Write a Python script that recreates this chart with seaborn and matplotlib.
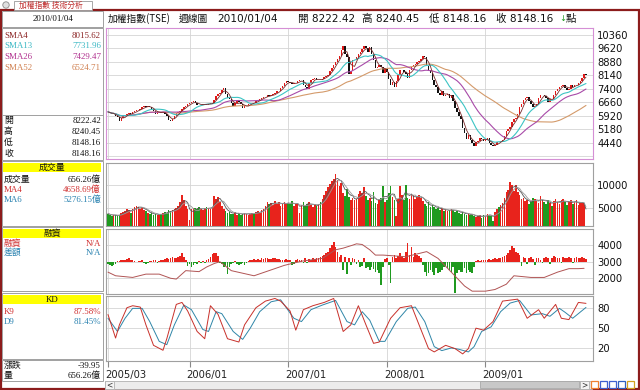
import numpy as np
import pandas as pd
import matplotlib
matplotlib.use("Agg")
import matplotlib.pyplot as plt
import seaborn as sns
from matplotlib.patches import Rectangle
from matplotlib.transforms import ScaledTranslation

# ---------------- data (weekly, 2005/03 .. 2010/01/04) ----------------
close_2005 = [6130, 6060, 5990, 6010, 5900, 5830, 5650, 5820, 5880, 5950, 5990, 6050, 6010,
              6100, 6170, 6230, 6240, 6300, 6380, 6440, 6400, 6450, 6380, 6290, 6180, 6040,
              6100, 6150, 6080, 6120, 6040, 5880, 5700, 5640, 5760, 5900, 6050, 6150, 6200,
              6300, 6400, 6450, 6550]
close_2006 = [6600, 6650, 6700, 6620, 6530, 6480, 6520, 6560, 6560, 6520, 6560, 6600, 6620,
              6800, 6980, 7100, 7170, 7350, 7450, 7100, 6900, 6850, 6600, 6450, 6600, 6700,
              6650, 6550, 6350, 6450, 6450, 6550, 6600, 6640, 6610, 6700, 6780, 6850, 6880,
              6920, 6960, 7050, 7000, 7030, 7100, 7150, 7250, 7270, 7420, 7550, 7700, 7820]
close_2007 = [7750, 7720, 7650, 7700, 7700, 7800, 7870, 7900, 7620, 7500, 7380, 7700, 7880,
              7920, 7980, 7850, 7900, 7880, 7950, 8050, 8120, 8150, 8350, 8550, 8700, 8880,
              9050, 9200, 9500, 9750, 9290, 9150, 8200, 8350, 8950, 9000, 9150, 9300, 9420,
              9550, 9720, 9650, 9400, 9710, 9300, 8950, 8550, 8600, 8700, 8600, 8250, 8480]
close_2008 = [8300, 7950, 7600, 7750, 7520, 7800, 8150, 8400, 8420, 8300, 8200, 8000, 8450,
              8570, 8700, 8750, 8850, 8920, 9050, 9200, 9150, 8650, 8450, 8250, 7850, 7600,
              7520, 7150, 7050, 7300, 7020, 7050, 7100, 6900, 7050, 6700, 6350, 6150, 5900,
              5720, 5250, 4950, 4650, 4870, 4600, 4400, 4250, 4460, 4550, 4700, 4620, 4560]
close_2009 = [4590, 4700, 4400, 4300, 4250, 4300, 4500, 4480, 4560, 4600, 4800, 5100, 5210,
              5300, 5600, 5750, 5800, 5990, 6400, 6550, 6800, 6890, 6950, 6700, 6550, 6420,
              6430, 6550, 6900, 7050, 7080, 7000, 6900, 6650, 6850, 6830, 7050, 7250, 7400,
              7510, 7550, 7600, 7450, 7340, 7400, 7600, 7500, 7580, 7600, 7700, 7800, 8000, 8188]
close_2010 = [8148.16]
first_open = 6150

vol_2005 = [3800, 3500, 3300, 3400, 3600, 3300, 3500, 3900, 4200, 4400, 4700, 4500, 4000,
            4800, 5300, 5500, 5100, 4800, 5200, 4500, 4300, 4000, 3700, 3900, 3500, 3800,
            3600, 3400, 3700, 3900, 4200, 4000, 4500, 4300, 4600, 4800, 5000, 5400, 6200,
            7800, 6600, 5400, 4800]
vol_2006 = [2400, 4800, 5000, 4900, 4700, 5100, 4800, 4600, 4900, 5200, 5000, 4800, 5300,
            7600, 7000, 7400, 6200, 5400, 4800, 4300, 3900, 4200, 3700, 3800, 4100, 3600,
            3900, 3500, 3700, 3900, 3800, 3600, 3700, 4000, 3800, 4100, 4300, 4000, 4500,
            4800, 5500, 6300, 5900, 6100, 5600, 6500, 5800, 6300, 5500, 6000, 6200, 5900]
vol_2007 = [6100, 5800, 6400, 5500, 5900, 6100, 4000, 5600, 6300, 5400, 5900, 6200, 5700,
            5300, 5800, 5400, 5900, 6300, 7000, 7800, 8600, 9400, 10200, 10800, 11200, 12300,
            10900, 9600, 10300, 8200, 7600, 9100, 7400, 6800, 7200, 6600, 7000, 7900, 8700,
            8200, 9400, 7500, 6800, 7200, 6400, 8500, 6100, 5900, 6800, 7100, 9600, 6200]
vol_2008 = [6800, 8200, 9600, 7300, 6600, 3200, 6900, 9600, 7800, 6700, 9800, 7200, 6900,
            8000, 7700, 6900, 7300, 7800, 7200, 6500, 5800, 5400, 6200, 5100, 5600, 5300,
            4800, 5000, 4600, 4900, 4400, 4700, 4300, 4500, 4800, 4600, 4200, 4400, 4000,
            3800, 4100, 3700, 3500, 3900, 3400, 3600, 3200, 3000, 3300, 3500, 2900, 3400]
vol_2009 = [3200, 3800, 3600, 3300, 2200, 4200, 4800, 5200, 5600, 6000, 7200, 8300, 8900,
            10600, 9800, 8600, 9900, 8400, 7800, 6900, 7200, 6400, 6600, 5900, 6300, 7200,
            6900, 6400, 6000, 7500, 6800, 6300, 5900, 6600, 6100, 5500, 6400, 6900, 6200,
            5800, 6600, 7000, 6300, 5700, 6500, 6700, 5900, 6200, 6600, 5700, 6100, 6300, 6000]
vol_2010 = [656.26]

margin_diff = [-150, -200, -250, -200, -150, 50, 60, 80, 100, 120,
               150, 200, 120, 80, 60, -40, 50, 40, 80, -80,
               -120, -100, 40, 60, 80, 100, -60, 50, 80, 100,
               150, 200, 180, 250, 300, 250, 200, 300, 350, 500,
               300, 100, -250, -150, -300, -200, -100, -150, 50, -100,
               60, -80, 100, 150, 300, 450, 550, 500, 350, -100,
               -150, -350, -250, -750, -300, -150, -100, 60, -120, -200,
               -150, -100, -180, -80, 60, 80, 120, 150, 100, 180,
               120, 200, 150, 250, 200, 180, 150, 220, 200, 180,
               150, 120, 100, 80, 150, 120, 100, -200, -150, 100,
               150, 80, 120, -100, 200, -80, 150, 120, 200, 180,
               200, 250, 300, 350, 400, 500, 600, 800, 1000, 1180,
               900, 600, 300, 400, -500, 300, -730, 250, -200, 200,
               150, -150, 100, -300, -250, 200, -400, -350, -500, -300,
               -450, -600, -500, -700, -1400, -300, 150, 200, -200, -1260,
               300, 400, 250, 350, 500, 300, 250, 600, 1100, 400,
               900, 300, 500, 400, 350, 250, -200, -600, -850, -700,
               -500, -650, -800, -400, -700, -600, -500, -300, -250, -400,
               -500, -600, -300, -1900, -700, -500, -650, -600, -400, -700,
               -500, -650, -700, -300, 50, 80, 60, 100, 80, 120,
               100, 150, 120, 180, 200, 150, 250, 200, 300, 350,
               400, 500, 700, 940, 800, 600, 500, 400, -250, 300,
               200, -150, 250, 300, 150, -200, 200, 250, 100, -100,
               200, 300, 250, -150, 200, 350, 300, 250, 200, -100,
               300, 250, 200, 300, 250, -100, 200, 300, 250, 200,
               300, 250, 150]
margin_week = [0, 4, 13, 20, 27, 33, 36, 41, 48, 52, 56, 59, 65, 77, 93, 102, 113, 120, 124,
               129, 131, 134, 138, 141, 145, 157, 168, 174, 181, 188, 192, 199, 204, 210, 214,
               223, 230, 237, 243, 248, 251]
margin_bal = [2370, 2150, 2050, 2250, 2250, 2000, 1950, 2460, 2400, 2680, 2890, 3000, 2460,
              2150, 2780, 3030, 3200, 3720, 3820, 4000, 4080, 4040, 3720, 3400, 3400, 3300,
              3610, 3200, 2370, 1530, 1220, 1220, 1320, 1640, 2150, 2050, 2050, 2370, 2580,
              2580, 2600]

k_week = [0, 4, 6, 10, 13, 17, 20, 24, 29, 31, 36, 39, 42, 47, 51, 54, 58, 63, 69, 72, 78,
          83, 88, 91, 96, 99, 103, 108, 114, 119, 124, 128, 132, 136, 140, 143, 149, 154, 160,
          164, 169, 172, 178, 183, 187, 190, 194, 198, 203, 208, 216, 221, 227, 230, 236, 239,
          243, 248, 252]
k_val = [70.7, 35, 55, 81, 84, 82, 55, 24, 16.5, 34, 86, 89, 76, 45, 34, 84, 71, 34, 29, 55,
         81, 91, 95, 91, 76, 47, 78, 84, 89, 95, 45, 55, 84, 55, 27, 29, 65, 81, 84, 55, 19,
         14, 24, 19, 11, 19, 50, 47, 60, 91, 94, 65, 78, 65, 86, 65, 63, 89, 87.58]
d_week = [0, 5, 9, 13, 18, 22, 27, 31, 35, 40, 44, 50, 53, 57, 60, 66, 71, 75, 80, 86, 91, 98,
          102, 107, 113, 120, 126, 130, 134, 138, 143, 146, 152, 158, 162, 167, 172, 176, 181,
          185, 190, 193, 197, 202, 207, 212, 217, 223, 229, 233, 238, 241, 245, 252]
d_val = [65, 45, 65, 80, 80, 60, 30, 25, 55, 85, 78, 48, 45, 75, 72, 45, 33, 50, 75, 90, 93, 65,
         60, 78, 85, 92, 60, 55, 75, 62, 30, 30, 60, 80, 82, 60, 22, 16, 20, 18, 14, 22, 45, 52,
         75, 88, 92, 70, 72, 68, 80, 74, 65, 81.45]

year_labels = ["2005/03", "2006/01", "2007/01", "2008/01", "2009/01"]
year_week = [0, 43, 95, 147, 199]
price_ticks = [10360, 9620, 8880, 8140, 7400, 6660, 5920, 5180, 4440]
vol_ticks = [10000, 5000]
margin_ticks = [4000, 3000, 2000]
kd_ticks = [80, 50, 20]

# ---------------- derived series ----------------
closes = close_2005 + close_2006 + close_2007 + close_2008 + close_2009 + close_2010
volumes = vol_2005 + vol_2006 + vol_2007 + vol_2008 + vol_2009 + vol_2010
n = len(closes)
idx = np.arange(n)
df = pd.DataFrame({"week": idx, "close": closes, "vol": volumes,
                   "open": [first_open] + closes[:-1], "mdiff": margin_diff})
df["up"] = df["close"] >= df["open"]
c = df["close"]
for w in (4, 13, 26, 52):
    df[f"sma{w}"] = c.rolling(w, min_periods=1).mean()
df["vma4"] = df["vol"].rolling(4, min_periods=1).mean()
df["vma6"] = df["vol"].rolling(6, min_periods=1).mean()
kdf = pd.DataFrame({"week": k_week, "K": k_val})
ddf = pd.DataFrame({"week": d_week, "D": d_val})

# ---------------- figure ----------------
sns.set_theme(style="white")
plt.rcParams["font.family"] = ["DejaVu Sans", "Noto Sans CJK TC"]
plt.rcParams["axes.linewidth"] = 0.8

W, H = 640, 390
fig = plt.figure(figsize=(6.4, 3.9), dpi=100)
fig.patch.set_facecolor("white")

deco = fig.add_axes([0, 0, 1, 1], zorder=0)
deco.set_xlim(0, W)
deco.set_ylim(H, 0)
deco.axis("off")

def panel(x0, y0, x1, y1):
    return fig.add_axes([x0 / W, 1 - y1 / H, (x1 - x0) / W, (y1 - y0) / H], zorder=2)

PX0, PX1 = 106, 593
XL = (-1.05, 255.7)
SERIF = ["Liberation Serif", "Noto Sans CJK TC"]
CJK = ["Noto Sans CJK TC", "DejaVu Sans"]

RED = "#e8231c"
GREEN = "#1f9a1f"
GRID = "#d4d4d4"
BORDER = "#a0a0a0"

def style(ax, ylim, ticks, edge=BORDER):
    ax.set_xlim(*XL)
    ax.set_ylim(*ylim)
    ax.set_facecolor("white")
    ax.set_yticks(ticks)
    ax.set_yticklabels([str(t) for t in ticks])
    ax.yaxis.tick_right()
    ax.tick_params(axis="y", length=0, pad=3, labelsize=7.2, labelcolor="#111111")
    ax.set_xticks(year_week)
    ax.tick_params(axis="x", bottom=False, labelbottom=False)
    ax.grid(True, color=GRID, lw=0.6)
    ax.set_axisbelow(True)
    for s in ax.spines.values():
        s.set_color(edge)
        s.set_linewidth(0.8)

def clear_labels(ax):
    ax.set_xlabel("")
    ax.set_ylabel("")

# price panel
axp = panel(PX0, 28.3, PX1, 158.5)
style(axp, (3574, 10711), price_ticks + [3700], edge="#d58fd5")
axp.set_yticklabels([str(t) for t in price_ticks] + [""])
body = (df["close"] - df["open"]).abs().clip(lower=12)
bottoms = np.minimum(df["open"], df["close"])
axp.bar(df["week"], body, bottom=bottoms, width=0.78,
        color=np.where(df["up"], "#e01818", "#111111"), linewidth=0, zorder=3)
for col, colr, lw in (("sma52", "#d49a6a", 0.8), ("sma26", "#a84aa8", 0.8),
                      ("sma13", "#3cc4c4", 0.8), ("sma4", "#7a2a2a", 0.6)):
    sns.lineplot(data=df, x="week", y=col, ax=axp, color=colr, lw=lw, legend=False, zorder=4)
clear_labels(axp)

# volume panel
axv = panel(PX0, 162.5, PX1, 226)
style(axv, (1150, 14700), vol_ticks)
axv.bar(df["week"], df["vol"], width=0.85,
        color=np.where(df["up"], RED, GREEN), linewidth=0, zorder=3)
sns.lineplot(data=df, x="week", y="vma4", ax=axv, color="#555555", lw=0.6, legend=False, zorder=4)
sns.lineplot(data=df, x="week", y="vma6", ax=axv, color="#9a9a9a", lw=0.6, legend=False, zorder=4)
clear_labels(axv)

# margin panel
axm = panel(PX0, 228.5, PX1, 293.5)
style(axm, (1079, 5006), margin_ticks)
axm.bar(df["week"], df["mdiff"], bottom=3000, width=0.85,
        color=np.where(df["mdiff"] >= 0, RED, GREEN), linewidth=0, zorder=3)
mline = pd.DataFrame({"week": margin_week, "bal": margin_bal})
sns.lineplot(data=mline, x="week", y="bal", ax=axm, color="#b05454", lw=0.7, legend=False, zorder=4)
clear_labels(axm)

# KD panel
axk = panel(PX0, 295.5, PX1, 360.5)
style(axk, (1, 99.5), kd_ticks)
sns.lineplot(data=ddf, x="week", y="D", ax=axk, color="#2f86a8", lw=0.7, legend=False, zorder=3)
sns.lineplot(data=kdf, x="week", y="K", ax=axk, color="#c8302a", lw=0.7, legend=False, zorder=4)
clear_labels(axk)
axk.set_xticks(year_week)
axk.set_xticklabels(year_labels)
axk.tick_params(axis="x", bottom=True, labelbottom=True, length=4, width=0.8,
                color="#888888", pad=2.5, labelsize=7.2, labelcolor="#222222", direction="out")
for lab in axk.get_xticklabels():
    lab.set_horizontalalignment("left")
    lab.set_transform(lab.get_transform() + ScaledTranslation(-3 / 100, 0, fig.dpi_scale_trans))

# ---------------- frame & left panel ----------------
MAROON = "#8c1c1c"
deco.add_patch(Rectangle((0.5, 9.5), W - 1.5, H - 10.5, fill=False, ec=MAROON, lw=1.6))
deco.add_patch(Rectangle((14, 1), 78, 9, fc="white", ec="#999999", lw=0.6))
deco.add_patch(plt.Circle((6, 5), 3.2, fc="#e0e0e0", ec="#888888", lw=0.6))
deco.text(19, 5.6, "加權指數 技術分析", fontsize=5.6, color="#c03030", va="center", family=CJK)

deco.add_patch(Rectangle((2, 11), 101, 16, fc="white", ec="#a0a0a0", lw=0.7))
deco.text(53, 19, "2010/01/04", fontsize=6.4, ha="center", va="center", family=SERIF, color="#111111")
deco.add_patch(Rectangle((2, 28), 101, 132, fc="white", ec="#a0a0a0", lw=0.7))
deco.plot([2, 103], [115, 115], color="#a0a0a0", lw=0.7)

def row(name, val, col, y):
    deco.text(4, y, name, fontsize=6.4, color=col, va="center", family=SERIF)
    deco.text(101, y, val, fontsize=6.4, color=col, va="center", ha="right", family=SERIF)

for item in [("SMA4", "8015.62", "#8b2424", 35.5), ("SMA13", "7731.96", "#3ab8c4", 46),
             ("SMA26", "7429.47", "#b0308e", 57), ("SMA52", "6524.71", "#d08050", 68),
             ("開", "8222.42", "#111111", 121), ("高", "8240.45", "#111111", 132),
             ("低", "8148.16", "#111111", 143), ("收", "8148.16", "#111111", 154)]:
    row(*item)

def section(y0, y1, title, items):
    deco.add_patch(Rectangle((2, y0), 101, y1 - y0, fc="white", ec="#a0a0a0", lw=0.7))
    if title:
        deco.add_patch(Rectangle((3, y0 + 2), 98, 9, fc="#ffff00", ec="none"))
        deco.text(52, y0 + 6.6, title, fontsize=6.4, ha="center", va="center", family=SERIF,
                  color="#111111")
    for item in items:
        row(*item)

section(161, 226, "成交量", [("成交量", "656.26億", "#111111", 179.5),
                           ("MA4", "4658.69億", "#d03030", 190), ("MA6", "5276.15億", "#2a82b0", 200)])
section(227, 291, "融資", [("融資", "N/A", "#d03030", 243.5), ("差額", "N/A", "#2a82b0", 253)])
section(293, 359, "KD", [("K9", "87.58%", "#d03030", 311.5), ("D9", "81.45%", "#2a82b0", 321.5)])
section(360, 381, "", [("漲跌", "-39.95", "#111111", 365.5), ("量", "656.26億", "#111111", 375.5)])

# header title
TY = 18.8
hdr = [(108, "加權指數(TSE)", "#111111", 7.0, CJK), (179, "週線圖", "#111111", 7.0, CJK),
       (217, "2010/01/04", "#111111", 7.6, None), (297.5, "開 8222.42", "#111111", 7.6, None),
       (362.5, "高 8240.45", "#111111", 7.6, None), (429, "低 8148.16", "#111111", 7.6, None),
       (496, "收 8148.16", "#111111", 7.6, None), (559.5, "↓", GREEN, 6.0, None),
       (566, "點", "#111111", 7.6, CJK)]
for x, s, col, fs, fam in hdr:
    kw = {"family": fam} if fam else {}
    deco.text(x, TY, s, fontsize=fs, color=col, va="center", **kw)

# panel legends
def legend_row(y, items, size=6.2):
    for x, s, col, fam in items:
        kw = {"family": fam} if fam else {}
        is_arrow = s in ("↑", "↓")
        deco.text(x, y, s, fontsize=5.4 if is_arrow else size, color=col, va="center", zorder=5,
                  fontweight="bold", **kw)

AR = None
legend_row(34.6, [(109, "SMA4 8015.62", "#7a1c1c", AR), (182.5, "↑", "#cc1010", AR),
                  (204, "SMA13 7731.96", "#3ab8c4", AR), (285.5, "↑", "#cc1010", AR),
                  (304, "SMA26 7429.47", "#a8308c", AR), (389, "↑", "#cc1010", AR),
                  (407, "SMA52 6524.71", "#c8844c", AR), (490.5, "↑", "#cc1010", AR)])
legend_row(168.8, [(108.6, "成交量", "#111111", CJK), (133, "656.26", "#111111", AR),
                   (180.3, "↓", GREEN, AR), (186.5, "億", "#111111", CJK),
                   (208.5, "MA4 4658.69", "#d02020", AR), (276, "↓", GREEN, AR),
                   (282.5, "億", "#d02020", CJK),
                   (306.6, "MA6 5276.15", "#1f7cb0", AR), (374.5, "↓", GREEN, AR),
                   (381, "億", "#1f7cb0", CJK)])
legend_row(235.5, [(108.6, "融資", "#d02020", CJK), (129, "N/A", "#d02020", AR),
                   (169, "差額", "#1f7cb0", CJK), (189.5, "N/A", "#1f7cb0", AR)])
legend_row(302, [(108.6, "K9 87.58", "#c82020", AR), (158, "↑", "#cc1010", AR),
                 (166, "%", "#c82020", AR),
                 (187.8, "D9 81.45", "#1f7cb0", AR), (237.5, "↑", "#cc1010", AR),
                 (244.5, "%", "#1f7cb0", AR)])

# scrollbar & icons
deco.add_patch(Rectangle((105, 380.5), 487, 8, fc="#ececec", ec="#b0b0b0", lw=0.6))
deco.add_patch(Rectangle((105, 380.5), 9, 8, fc="#f4f4f4", ec="#b0b0b0", lw=0.6))
deco.add_patch(Rectangle((480, 381), 99, 7, fc="#c8c8c8", ec="#a8a8a8", lw=0.6))
deco.add_patch(Rectangle((580, 380.5), 9, 8, fc="#f4f4f4", ec="#b0b0b0", lw=0.6))
deco.text(109.5, 384.5, "<", fontsize=5.5, ha="center", va="center", color="#333333")
deco.text(584.5, 384.5, ">", fontsize=5.5, ha="center", va="center", color="#333333")
for x, col in ((591, "#f08030"), (600, "#4060d0"), (609, "#4060d0"), (618, "#3060c0"), (627, "#d0a020")):
    deco.add_patch(Rectangle((x, 381), 7, 7, fc="white", ec=col, lw=0.9))

fig.savefig("out.png", dpi=100, facecolor="white")
